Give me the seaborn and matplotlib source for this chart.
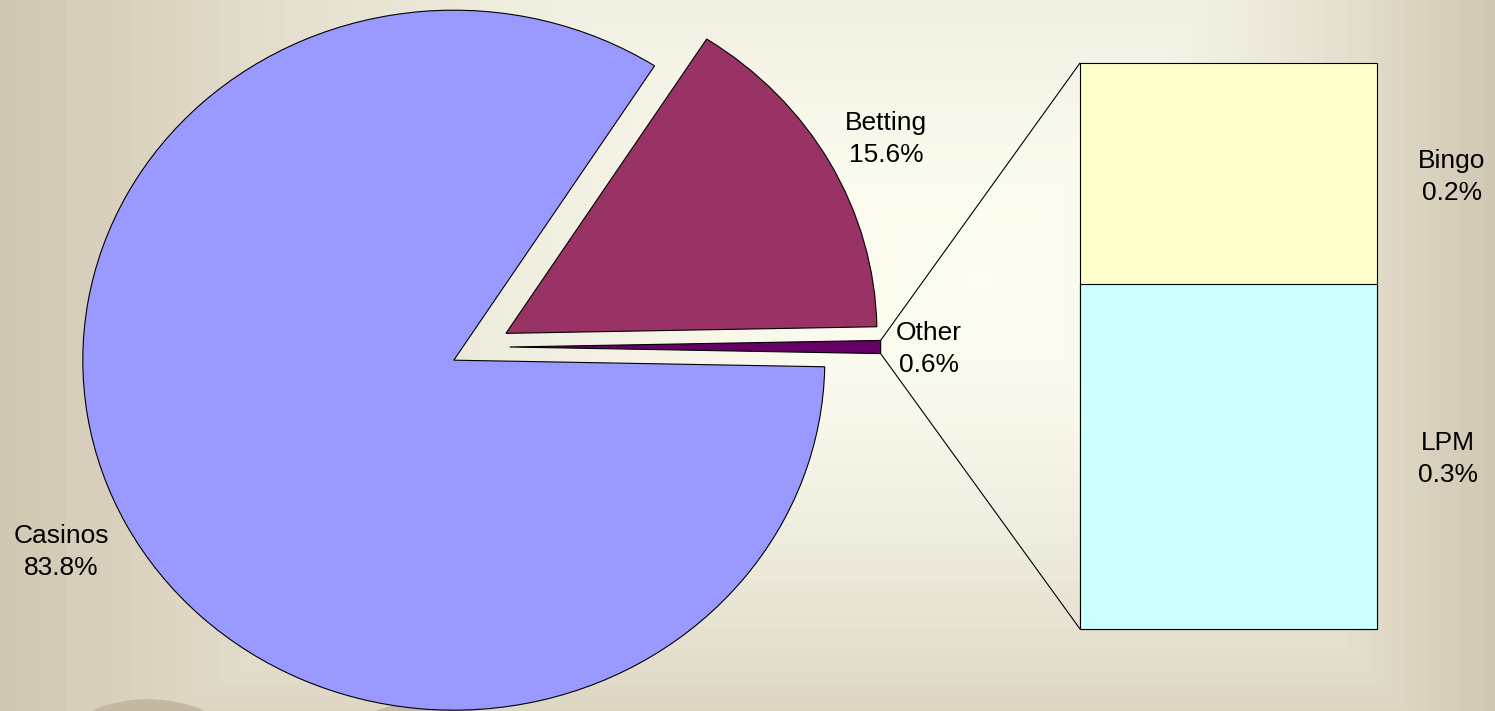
import numpy as np
import matplotlib
matplotlib.use("Agg")
import matplotlib.pyplot as plt
from matplotlib.patches import ConnectionPatch, Ellipse
import seaborn as sns

# pie part (share of total, %)
pie_labels = ["Other", "Betting", "Casinos"]
pie_values = [0.6, 15.6, 83.8]
pie_colors = ["#660066", "#993366", "#9999ff"]

# breakdown of "Other" (stacked, bottom first)
bar_labels = ["LPM", "Bingo"]
bar_values = [0.366, 0.234]
bar_texts = ["0.3%", "0.2%"]
bar_colors = ["#ccffff", "#ffffcc"]

W, H = 1495, 711
sns.set_theme(style="white")
plt.rcParams["font.family"] = ["Liberation Sans", "DejaVu Sans"]

fig = plt.figure(figsize=(W / 100, H / 100), dpi=100)

# background: rectangular gradient, light in the middle
bg = fig.add_axes([0, 0, 1, 1], zorder=0)
yy, xx = np.mgrid[0:H, 0:W]
cx, cy = 985, 280
dx = np.where(xx < cx, (cx - xx) / cx, (xx - cx) / (W - cx))
dy = np.where(yy < cy, (cy - yy) / 650, (yy - cy) / 520)
t = np.maximum(dx, dy).clip(0, 1)
t = (np.floor(t * 45) / 45) ** 1.7
c0 = np.array([252, 252, 240]) / 255
c1 = np.array([208, 198, 177]) / 255
img = c0 + (c1 - c0) * t[..., None]
bg.imshow(img, extent=(0, W, H, 0), aspect="auto")
bg.add_patch(Ellipse((148, 735), 150, 70, color="#c4b8a3"))
bg.add_patch(Ellipse((425, 738), 150, 70, color="#c4b8a3"))
bg.set_xlim(0, W)
bg.set_ylim(H, 0)
bg.axis("off")

# main pie, slightly squashed vertically
ax = fig.add_axes([0, 0, 1, 1], zorder=1)
ax.patch.set_alpha(0)
rx, ry = 371, 350
wedges, _ = ax.pie(pie_values, colors=pie_colors,
                   startangle=-pie_values[0] / 100 * 180,
                   explode=[0.08] * 3, center=(480 / rx, (H - 347) / ry), radius=1,
                   wedgeprops=dict(edgecolor="black", linewidth=0.8))
ax.set_aspect("auto")
ax.set_xlim(0, W / rx)
ax.set_ylim(0, H / ry)
ax.axis("off")

# stacked bar for "Other"
total = sum(bar_values)
bx = fig.add_axes([1080 / W, (H - 629) / H, 297 / W, 566 / H], zorder=2)
sns.barplot(x=["Other"], y=[total], color=bar_colors[1], width=1, saturation=1,
            edgecolor="black", linewidth=0.8, ax=bx)
sns.barplot(x=["Other"], y=[bar_values[0]], color=bar_colors[0], width=1, saturation=1,
            edgecolor="black", linewidth=0.8, ax=bx)
for p in bx.patches:
    p.set_clip_on(False)
bx.set_xlim(-0.5, 0.5)
bx.set_ylim(0, total)
bx.axis("off")

# connector lines from the small slice to the bar
w = wedges[0]
for ang, yb in [(w.theta2, total), (w.theta1, 0)]:
    a = np.deg2rad(ang)
    xa = w.center[0] + w.r * np.cos(a)
    ya = w.center[1] + w.r * np.sin(a)
    con = ConnectionPatch(xyA=(xa, ya), coordsA=ax.transData,
                          xyB=(-0.5, yb), coordsB=bx.transData,
                          color="black", linewidth=0.8, zorder=3)
    fig.add_artist(con)

# labels
label_pos = {"Casinos": (61, 552), "Betting": (886, 139), "Other": (929, 349),
             "Bingo": (1452, 177), "LPM": (1448, 459)}
texts = {lab: f"{v}%" for lab, v in zip(pie_labels, pie_values)}
texts.update(dict(zip(bar_labels, bar_texts)))
for lab, (px, py) in label_pos.items():
    fig.text(px / W, 1 - py / H, f"{lab}\n{texts[lab]}", ha="center", va="center",
             multialignment="center", fontsize=19, linespacing=1.4, color="black")

fig.savefig("out.png", dpi=100)
